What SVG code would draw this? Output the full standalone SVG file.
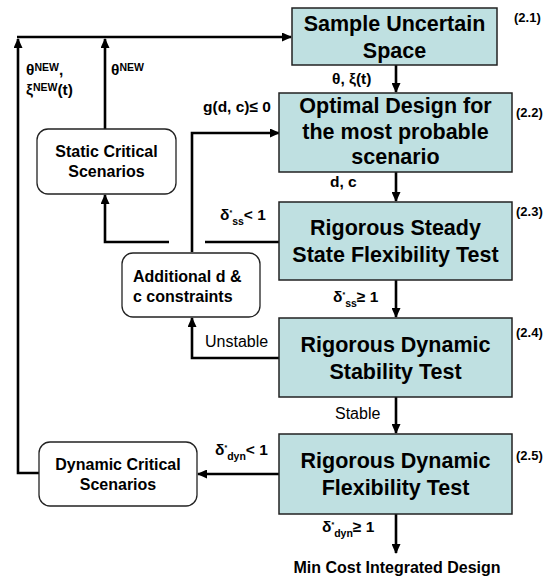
<svg xmlns="http://www.w3.org/2000/svg" width="550" height="578" viewBox="0 0 550 578">
<style>
.box{fill:#bfe0e1;stroke:#222;stroke-width:1.5}
.rbox{fill:#fff;stroke:#222;stroke-width:1.3}
.bt{font-family:"Liberation Sans",Arial,sans-serif;font-weight:bold;font-size:21.5px;fill:#000;text-anchor:middle}
.nt{font-family:"Liberation Sans",Arial,sans-serif;font-weight:bold;font-size:16px;fill:#000;text-anchor:middle}
.lb{font-family:"Liberation Sans",Arial,sans-serif;font-weight:bold;font-size:15.5px;fill:#000}
.ln{font-family:"Liberation Sans",Arial,sans-serif;font-size:16px;fill:#000}
.eq{font-family:"Liberation Sans",Arial,sans-serif;font-weight:bold;font-size:13px;fill:#000}
.sm{font-size:10.5px}
.tn{font-size:7px}
.c{fill:none;stroke:#000;stroke-width:2.6}
</style>
<defs>
<marker id="ah" markerUnits="userSpaceOnUse" markerWidth="10" markerHeight="9" refX="9" refY="4.5" orient="auto">
<path d="M0,0 L10,4.5 L0,9 z" fill="#000"/>
</marker>
</defs>
<g id="connectors">
<path class="c" d="M39,473 H18 V39" marker-end="url(#ah)"/>
<path class="c" d="M17,37 H291" marker-end="url(#ah)"/>
<path class="c" d="M105,129 V39" marker-end="url(#ah)"/>
<path class="c" d="M396,65 V92" marker-end="url(#ah)"/>
<path class="c" d="M396,172 V201" marker-end="url(#ah)"/>
<path class="c" d="M396,280 V317" marker-end="url(#ah)"/>
<path class="c" d="M396,397 V433" marker-end="url(#ah)"/>
<path class="c" d="M396,514 V553" marker-end="url(#ah)"/>
<path class="c" d="M192,252 V133 H279" marker-end="url(#ah)"/>
<path class="c" d="M279,242 H205"/>
<path class="c" d="M169,242 H105 V195" marker-end="url(#ah)"/>
<path class="c" d="M279,358 H192 V318" marker-end="url(#ah)"/>
<path class="c" d="M279,474 H198" marker-end="url(#ah)"/>
</g>
<g id="n21">
<rect class="box" x="292" y="8" width="205" height="57"/>
<text class="bt" x="394.5" y="31">Sample Uncertain</text>
<text class="bt" x="394.5" y="58">Space</text>
<text class="eq" x="514" y="22">(2.1)</text>
</g>
<g id="n22">
<rect class="box" x="279" y="93" width="233" height="79"/>
<text class="bt" x="395.5" y="113">Optimal Design for</text>
<text class="bt" x="395.5" y="139">the most probable</text>
<text class="bt" x="395.5" y="164">scenario</text>
<text class="eq" x="516" y="117">(2.2)</text>
</g>
<g id="n23">
<rect class="box" x="279" y="202" width="233" height="78"/>
<text class="bt" x="395.5" y="235">Rigorous Steady</text>
<text class="bt" x="395.5" y="262">State Flexibility Test</text>
<text class="eq" x="516" y="216">(2.3)</text>
</g>
<g id="n24">
<rect class="box" x="279" y="318" width="233" height="79"/>
<text class="bt" x="395.5" y="352">Rigorous Dynamic</text>
<text class="bt" x="395.5" y="379">Stability Test</text>
<text class="eq" x="516" y="337">(2.4)</text>
</g>
<g id="n25">
<rect class="box" x="279" y="434" width="233" height="80"/>
<text class="bt" x="395.5" y="468">Rigorous Dynamic</text>
<text class="bt" x="395.5" y="495">Flexibility Test</text>
<text class="eq" x="516" y="460">(2.5)</text>
</g>
<g id="static">
<rect class="rbox" x="37" y="129" width="139" height="65" rx="11"/>
<text class="nt" x="106.5" y="157">Static Critical</text>
<text class="nt" x="106.5" y="177">Scenarios</text>
</g>
<g id="additional">
<rect class="rbox" x="122" y="253" width="138" height="64" rx="11"/>
<text class="nt" x="133" y="282" style="text-anchor:start">Additional d &amp;</text>
<text class="nt" x="133" y="302" style="text-anchor:start">c constraints</text>
</g>
<g id="dynamic">
<rect class="rbox" x="39" y="442" width="158" height="64" rx="11"/>
<text class="nt" x="118" y="470">Dynamic Critical</text>
<text class="nt" x="118" y="490">Scenarios</text>
</g>
<g id="labels">
<text class="lb" x="26" y="75">θ<tspan class="sm" dy="-4">NEW</tspan><tspan dy="4">,</tspan></text>
<text class="lb" x="26" y="95">ξ<tspan class="sm" dy="-4">NEW</tspan><tspan dy="4">(t)</tspan></text>
<text class="lb" x="111" y="75">θ<tspan class="sm" dy="-4">NEW</tspan></text>
<text class="lb" x="332" y="84">θ, ξ(t)</text>
<text class="lb" x="203" y="112">g(d, c)≤ 0</text>
<text class="lb" x="330" y="187">d, c</text>
<text class="lb" x="220" y="220">δ<tspan class="tn" dy="-5">*</tspan><tspan class="sm" dy="10">ss</tspan><tspan dy="-5">&lt; 1</tspan></text>
<text class="lb" x="333" y="302">δ<tspan class="tn" dy="-5">*</tspan><tspan class="sm" dy="10">ss</tspan><tspan dy="-5">≥ 1</tspan></text>
<text class="ln" x="205" y="347">Unstable</text>
<text class="ln" x="335" y="419">Stable</text>
<text class="lb" x="215" y="455">δ<tspan class="tn" dy="-5">*</tspan><tspan class="sm" dy="10">dyn</tspan><tspan dy="-5">&lt; 1</tspan></text>
<text class="lb" x="322" y="532">δ<tspan class="tn" dy="-5">*</tspan><tspan class="sm" dy="10">dyn</tspan><tspan dy="-5">≥ 1</tspan></text>
<text class="nt" x="397" y="573">Min Cost Integrated Design</text>
</g>
</svg>
